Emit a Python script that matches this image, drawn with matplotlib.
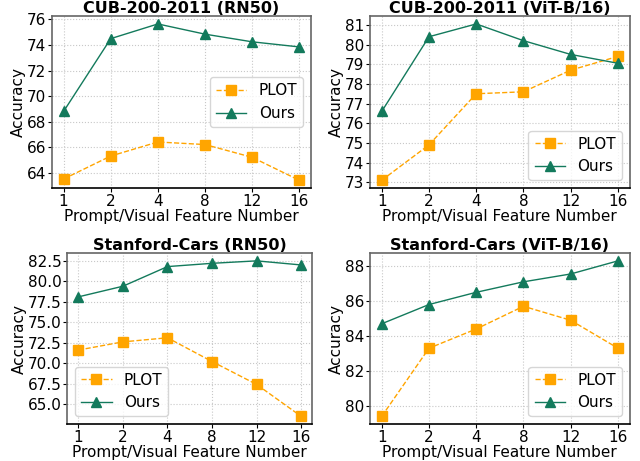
import matplotlib.pyplot as plt
import numpy as np

plt.rc('font', size=11)

features = ['1', '2', '4', '8', '12', '16']

titles = ['CUB-200-2011 (RN50)', 'CUB-200-2011 (ViT-B/16)',
          'Stanford-Cars (RN50)', 'Stanford-Cars (ViT-B/16)']

plot_cub_rn50 = [63.5, 65.3, 66.4, 66.2, 65.2, 63.4]
ours_cub_rn50 = [68.8, 74.5, 75.65, 74.85, 74.25, 73.85]
plot_cub_vit = [73.1, 74.9, 77.5, 77.6, 78.7, 79.4]
ours_cub_vit = [76.6, 80.4, 81.05, 80.2, 79.5, 79.05]
plot_cars_rn50 = [71.6, 72.6, 73.1, 70.2, 67.4, 63.5]
ours_cars_rn50 = [78.1, 79.4, 81.8, 82.2, 82.5, 82.0]
plot_cars_vit = [79.4, 83.3, 84.4, 85.7, 84.9, 83.3]
ours_cars_vit = [84.7, 85.8, 86.5, 87.1, 87.55, 88.3]

plot_series = [plot_cub_rn50, plot_cub_vit, plot_cars_rn50, plot_cars_vit]
ours_series = [ours_cub_rn50, ours_cub_vit, ours_cars_rn50, ours_cars_vit]
legend_locs = ['center right', 'lower right', 'lower left', 'lower right']
yticks = [np.arange(64, 77, 2), np.arange(73, 82, 1),
          np.arange(65, 83, 2.5), np.arange(80, 89, 2)]
yfmt = ['%d', '%d', '%.1f', '%d']

# axes rectangles [left, bottom, width, height] in figure fraction
rects = [[0.081, 0.592, 0.405, 0.373],
         [0.578, 0.592, 0.406, 0.373],
         [0.105, 0.080, 0.383, 0.371],
         [0.578, 0.080, 0.406, 0.371]]

fig = plt.figure(figsize=(6.4, 4.61), dpi=100)
x = np.arange(len(features))

for i in range(4):
    ax = fig.add_axes(rects[i])
    ax.plot(x, plot_series[i], linestyle='--', lw=1, color='#FFA500',
            marker='s', markersize=6.5, label='PLOT')
    ax.plot(x, ours_series[i], linestyle='-', lw=1, color='#137A5C',
            marker='^', markersize=6.5, label='Ours')
    ax.set_xticks(x)
    ax.set_xticklabels(features)
    ax.set_yticks(yticks[i])
    ax.set_yticklabels([yfmt[i] % v for v in yticks[i]])
    ax.set_title(titles[i], fontsize=11.5, weight='bold', pad=-0.5)
    ax.set_xlabel('Prompt/Visual Feature Number', fontsize=11, labelpad=0)
    ax.set_ylabel('Accuracy', fontsize=11, labelpad=1)
    ax.grid(True, linestyle=':', color='#c8c8c8', lw=0.8)
    ax.tick_params(axis='both', labelsize=11, pad=1, length=3)
    for s in ['left', 'right', 'top']:
        ax.spines[s].set_color('#666666')
        ax.spines[s].set_linewidth(1.2)
    ax.spines['bottom'].set_linewidth(1.2)
    ax.legend(loc=legend_locs[i], fontsize=11)

plt.savefig('out.png', dpi=100)
